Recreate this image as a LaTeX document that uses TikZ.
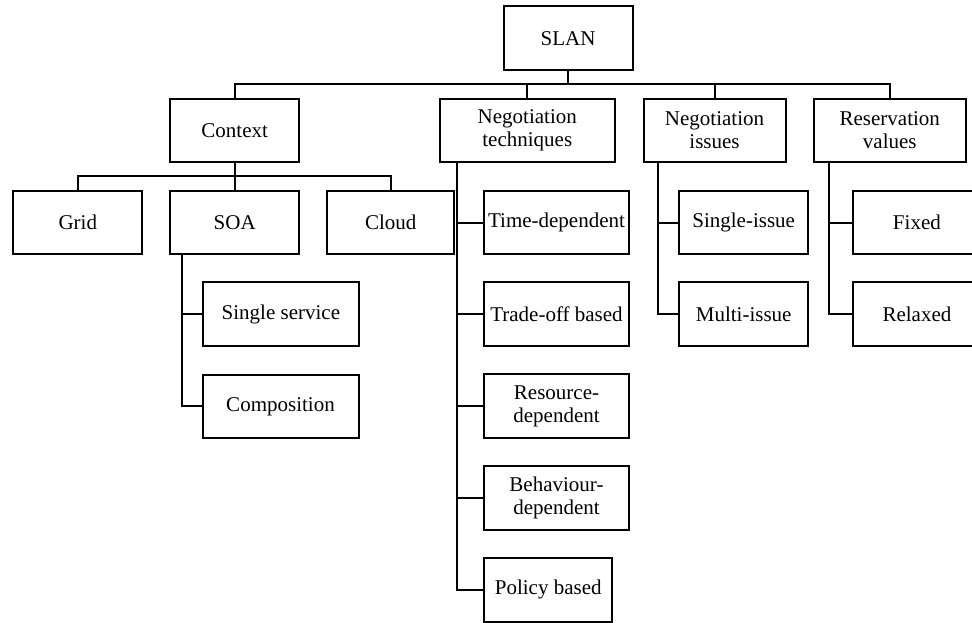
\documentclass[tikz,border=0pt]{standalone}
\usepackage{fontspec}
\setmainfont{Liberation Serif}
\begin{document}
\begin{tikzpicture}[x=1pt,y=-1pt,
  box/.style={draw, line width=2pt, inner sep=0pt, align=center,
    minimum height=63.5pt, font=\fontsize{21}{23.5}\selectfont},
  conn/.style={line width=2pt}]
\useasboundingbox (0,0) rectangle (972,623);
\clip (0,0) rectangle (972,623);
% level 0
\node[box, minimum width=129pt] (slan) at (568,38.2) {SLAN};
% level 1
\node[box, minimum width=128.5pt] (ctx) at (234.7,130.3) {Context};
\node[box, minimum width=175.5pt] (nt) at (527.3,130.3) {Negotiation\\techniques};
\node[box, minimum width=142pt] (ni) at (714.5,130.3) {Negotiation\\issues};
\node[box, minimum width=152.5pt] (rv) at (889.8,130.3) {Reservation\\values};
% context children
\node[box, minimum width=129pt] (grid) at (77.8,222.5) {Grid};
\node[box, minimum width=128.5pt] (soa) at (234.7,222.5) {SOA};
\node[box, minimum width=127.5pt] (cloud) at (390.7,222.5) {Cloud};
\node[box, minimum width=156.5pt] (ss) at (280.9,314.2) {Single service};
\node[box, minimum width=156pt] (comp) at (280.5,406.3) {Composition};
% negotiation techniques children
\node[box, minimum width=145pt] (td) at (556.5,222.5) {Time-dependent};
\node[box, minimum width=145pt] (to) at (556.5,314.2) {Trade-off based};
\node[box, minimum width=145pt] (rd) at (556.5,406.2) {Resource-\\dependent};
\node[box, minimum width=145pt] (bd) at (556.5,497.9) {Behaviour-\\dependent};
\node[box, minimum width=128.5pt] (pb) at (548.2,589.8) {Policy based};
% negotiation issues children
\node[box, minimum width=128.5pt] (si) at (743.7,222.5) {Single-issue};
\node[box, minimum width=128.5pt] (mi) at (743.7,314.2) {Multi-issue};
% reservation values children
\node[box, minimum width=128.5pt] (fx) at (916.9,222.5) {Fixed};
\node[box, minimum width=128.5pt] (rx) at (916.9,314.2) {Relaxed};
% connectors
\coordinate (b1) at (0,84.3);
\coordinate (b2) at (0,176);
\draw[conn] (slan.south) -- (slan.south |- b1);
\draw[conn] (ctx.north) |- (rv.north |- b1) -- (rv.north);
\draw[conn] (nt.north) -- (nt.north |- b1);
\draw[conn] (ni.north) -- (ni.north |- b1);
\draw[conn] (ctx.south) -- (ctx.south |- b2);
\draw[conn] (grid.north) |- (cloud.north |- b2) -- (cloud.north);
\draw[conn] (soa.north) -- (soa.north |- b2);
% SOA branch
\coordinate (sv) at (182.3,255.3);
\draw[conn] (sv) |- (comp.west);
\draw[conn] (sv |- ss.west) -- (ss.west);
% NT branch
\coordinate (nv) at (457.3,163);
\draw[conn] (nv) |- (pb.west);
\draw[conn] (nv |- td.west) -- (td.west);
\draw[conn] (nv |- to.west) -- (to.west);
\draw[conn] (nv |- rd.west) -- (rd.west);
\draw[conn] (nv |- bd.west) -- (bd.west);
% NI branch
\coordinate (iv) at (657.7,163);
\draw[conn] (iv) |- (mi.west);
\draw[conn] (iv |- si.west) -- (si.west);
% RV branch
\coordinate (rvv) at (828.7,163);
\draw[conn] (rvv) |- (rx.west);
\draw[conn] (rvv |- fx.west) -- (fx.west);
\end{tikzpicture}
\end{document}
